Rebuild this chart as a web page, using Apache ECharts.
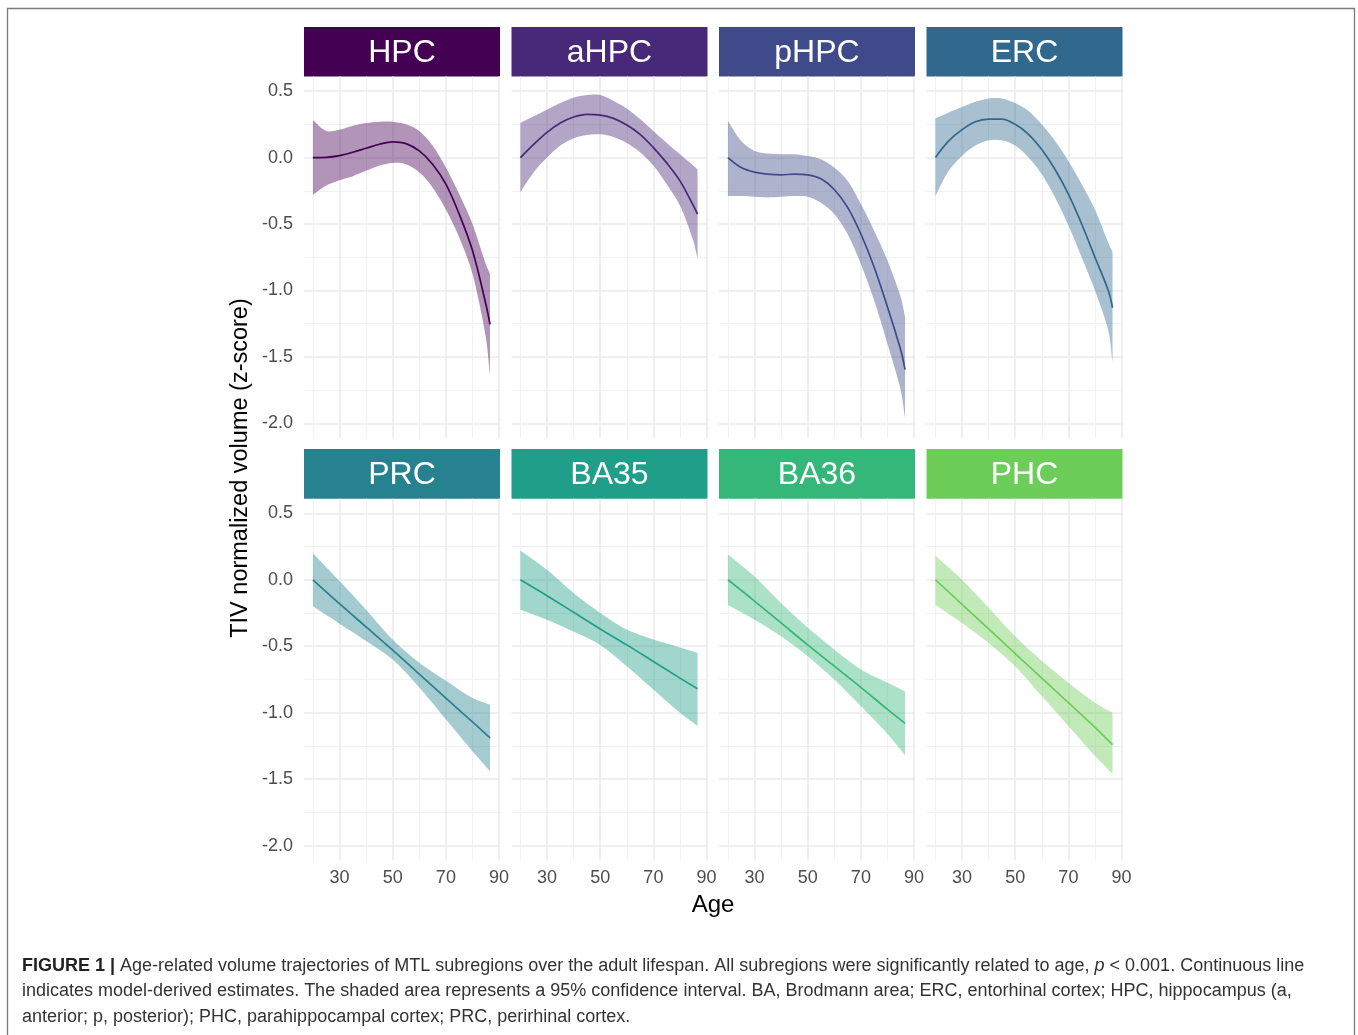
<!DOCTYPE html>
<html>
<head>
<meta charset="utf-8">
<script src="https://cdn.jsdelivr.net/npm/echarts@6/dist/echarts.min.js"></script>
<style>
html, body { margin: 0; padding: 0; background: #fff; }
#chart { width: 1358px; height: 1035px; }
</style>
</head>
<body>
<div id="chart"></div>
<script>
/* MTL subregion volume vs age, one facet per region */
var regions = ['HPC', 'aHPC', 'pHPC', 'ERC', 'PRC', 'BA35', 'BA36', 'PHC'];
var colors = ['#440154', '#482878', '#3E4A89', '#31688E', '#26828E', '#1F9E89', '#35B779', '#6DCD59'];

var majorAges = [30, 50, 70, 90];
var minorAges = [20, 40, 60, 80];
var majorZ = [-2, -1.5, -1, -0.5, 0, 0.5];
var minorZ = [-1.75, -1.25, -0.75, -0.25, 0.25];

// cubic fits (top row)
var curveAges = [20, 25, 30, 35, 40, 45, 50, 55, 60, 65, 70, 75, 80, 85, 86.6];
var hpcFit  = [0, 0.002, 0.015, 0.04, 0.07, 0.1, 0.118, 0.105, 0.05, -0.05, -0.2, -0.425, -0.7, -1.1, -1.255];
var hpcHigh = [0.28, 0.2, 0.21, 0.24, 0.26, 0.27, 0.27, 0.25, 0.2, 0.09, -0.075, -0.275, -0.5, -0.8, -0.875];
var hpcLow  = [-0.28, -0.21, -0.17, -0.14, -0.1, -0.06, -0.04, -0.05, -0.11, -0.225, -0.39, -0.6, -0.875, -1.35, -1.64];
var ahpcFit  = [0, 0.1, 0.19, 0.26, 0.305, 0.325, 0.32, 0.295, 0.245, 0.175, 0.075, -0.04, -0.175, -0.36, -0.425];
var ahpcHigh = [0.26, 0.31, 0.36, 0.41, 0.45, 0.47, 0.47, 0.425, 0.37, 0.29, 0.2, 0.11, 0.025, -0.06, -0.09];
var ahpcLow  = [-0.26, -0.11, 0, 0.09, 0.145, 0.17, 0.175, 0.155, 0.11, 0.04, -0.06, -0.2, -0.36, -0.625, -0.76];
var phpcFit  = [0, -0.075, -0.11, -0.125, -0.13, -0.125, -0.13, -0.16, -0.24, -0.375, -0.575, -0.825, -1.125, -1.45, -1.595];
var phpcHigh = [0.275, 0.125, 0.05, 0.03, 0.025, 0.025, 0.0125, -0.0125, -0.075, -0.175, -0.35, -0.55, -0.775, -1.05, -1.2];
var phpcLow  = [-0.29, -0.29, -0.295, -0.3, -0.295, -0.29, -0.295, -0.34, -0.425, -0.575, -0.8, -1.075, -1.4, -1.75, -1.96];
var ercFit  = [0, 0.125, 0.21, 0.27, 0.29, 0.29, 0.25, 0.175, 0.06, -0.09, -0.275, -0.5, -0.75, -1.0, -1.13];
var ercHigh = [0.295, 0.34, 0.38, 0.42, 0.445, 0.445, 0.41, 0.35, 0.25, 0.125, -0.025, -0.2, -0.39, -0.64, -0.71];
var ercLow  = [-0.29, -0.1, 0.0125, 0.09, 0.13, 0.13, 0.09, 0, -0.125, -0.3, -0.51, -0.75, -1.0, -1.3, -1.54];

// linear fits (bottom row)
var lineAges = [20, 30, 40, 50, 60, 70, 80, 86.6];
var prcFit  = [0, -0.18, -0.355, -0.53, -0.71, -0.89, -1.07, -1.19];
var prcHigh = [0.2, -0.01, -0.225, -0.45, -0.625, -0.76, -0.89, -0.94];
var prcLow  = [-0.2, -0.33, -0.46, -0.6, -0.81, -1.05, -1.29, -1.44];
var ba35Fit  = [0, -0.12, -0.245, -0.37, -0.49, -0.615, -0.74, -0.82];
var ba35High = [0.22, 0.075, -0.1, -0.25, -0.375, -0.45, -0.51, -0.55];
var ba35Low  = [-0.225, -0.3, -0.39, -0.49, -0.65, -0.825, -1.0, -1.1];
var ba36Fit  = [0, -0.16, -0.325, -0.49, -0.65, -0.81, -0.975, -1.08];
var ba36High = [0.19, 0.025, -0.175, -0.36, -0.525, -0.675, -0.775, -0.84];
var ba36Low  = [-0.19, -0.3, -0.425, -0.575, -0.75, -0.95, -1.16, -1.32];
var phcFit  = [0, -0.185, -0.37, -0.555, -0.74, -0.925, -1.11, -1.24];
var phcHigh = [0.18, 0, -0.21, -0.425, -0.61, -0.775, -0.925, -1.0];
var phcLow  = [-0.19, -0.325, -0.475, -0.65, -0.875, -1.1, -1.325, -1.46];

var panels = [
    [curveAges, hpcFit, hpcLow, hpcHigh],
    [curveAges, ahpcFit, ahpcLow, ahpcHigh],
    [curveAges, phpcFit, phpcLow, phpcHigh],
    [curveAges, ercFit, ercLow, ercHigh],
    [lineAges, prcFit, prcLow, prcHigh],
    [lineAges, ba35Fit, ba35Low, ba35High],
    [lineAges, ba36Fit, ba36Low, ba36High],
    [lineAges, phcFit, phcLow, phcHigh]
];

var colLeft = [304, 511.5, 719, 926.5];
var panelW = 196;
var rowTop = [76.5, 498.7];
var panelH = 361.5;
var stripTop = [27, 449];
var font = 'Liberation Sans, Arial, sans-serif';

var grids = [], xAxes = [], yAxes = [], series = [], graphics = [];

graphics.push({
    type: 'rect', z: -10,
    shape: { x: 7.5, y: 8.5, width: 1347, height: 1045 },
    style: { fill: 'none', stroke: '#7a7a7a', lineWidth: 1.3 }
});

regions.forEach(function (name, i) {
    var row = Math.floor(i / 4), col = i % 4;
    var ages = panels[i][0], fit = panels[i][1], lo = panels[i][2], hi = panels[i][3];

    grids.push({ left: colLeft[col], top: rowTop[row], width: panelW, height: panelH });

    var xBase = { gridIndex: i, type: 'value', min: 16.65, max: 90.35,
                  axisLine: { show: false } };
    xAxes.push(echarts.util.merge({
        position: 'bottom',
        axisTick: { show: false, customValues: majorAges },
        axisLabel: { show: row === 1, customValues: majorAges, color: '#4D4D4D',
                     fontSize: 18, fontFamily: font, margin: 9 },
        splitLine: { show: true, lineStyle: { color: '#EBEBEB', width: 1.6 } }
    }, xBase, true));
    xAxes.push(echarts.util.merge({
        position: 'top',
        axisTick: { show: false, customValues: minorAges },
        axisLabel: { show: false, customValues: minorAges },
        splitLine: { show: true, lineStyle: { color: '#EFEFEF', width: 0.9 } }
    }, xBase, true));

    var yBase = { gridIndex: i, type: 'value', min: -2.11, max: 0.61,
                  axisLine: { show: false } };
    yAxes.push(echarts.util.merge({
        position: 'left',
        axisTick: { show: false, customValues: majorZ },
        axisLabel: { show: col === 0, customValues: majorZ, color: '#4D4D4D',
                     fontSize: 18, fontFamily: font, margin: 11,
                     formatter: function (v) { return v.toFixed(1); } },
        splitLine: { show: true, lineStyle: { color: '#EBEBEB', width: 1.6 } }
    }, yBase, true));
    yAxes.push(echarts.util.merge({
        position: 'right',
        axisTick: { show: false, customValues: minorZ },
        axisLabel: { show: false, customValues: minorZ },
        splitLine: { show: true, lineStyle: { color: '#EFEFEF', width: 0.9 } }
    }, yBase, true));

    // confidence band, corners doubled so the smoothing keeps them sharp
    series.push({
        type: 'custom', xAxisIndex: 2 * i, yAxisIndex: 2 * i, silent: true, z: 2,
        data: ages.map(function (a, k) { return [a, lo[k], hi[k]]; }),
        encode: { x: 0, y: [1, 2] },
        renderItem: function (params, api) {
            if (params.dataIndexInside !== 0) return null;
            var pts = [], k, n = ages.length;
            pts.push(api.coord([ages[0], hi[0]]));
            for (k = 0; k < n; k++) pts.push(api.coord([ages[k], hi[k]]));
            pts.push(api.coord([ages[n - 1], hi[n - 1]]));
            pts.push(api.coord([ages[n - 1], lo[n - 1]]));
            for (k = n - 1; k >= 0; k--) pts.push(api.coord([ages[k], lo[k]]));
            pts.push(api.coord([ages[0], lo[0]]));
            return {
                type: 'polygon',
                shape: { points: pts, smooth: 0.3 },
                style: { fill: colors[i], opacity: 0.42 }
            };
        }
    });
    // fitted line
    series.push({
        name: name, type: 'line', xAxisIndex: 2 * i, yAxisIndex: 2 * i, z: 3,
        silent: true, showSymbol: false, smooth: 0.35,
        data: ages.map(function (a, k) { return [a, fit[k]]; }),
        lineStyle: { color: colors[i], width: 1.7 }
    });

    // facet strip
    graphics.push({
        type: 'rect',
        shape: { x: colLeft[col], y: stripTop[row], width: panelW, height: rowTop[row] - stripTop[row] },
        style: { fill: colors[i] }
    });
    graphics.push({
        type: 'text',
        x: colLeft[col] + panelW / 2, y: (stripTop[row] + rowTop[row]) / 2 + 1,
        style: { text: name, fill: '#fff', fontSize: 32, fontFamily: font,
                 align: 'center', verticalAlign: 'middle' }
    });
});

graphics.push({
    type: 'text', x: 713, y: 905,
    style: { text: 'Age', fill: '#000', fontSize: 24, fontFamily: font,
             align: 'center', verticalAlign: 'middle' }
});
graphics.push({
    type: 'text', x: 241, y: 468, rotation: Math.PI / 2,
    style: { text: 'TIV normalized volume (z-score)', fill: '#000', fontSize: 23.5,
             fontFamily: font, align: 'center', verticalAlign: 'middle' }
});

var captionLines = [
    '{b|FIGURE 1 |} Age-related volume trajectories of MTL subregions over the adult lifespan. All subregions were significantly related to age, {i|p} < 0.001. Continuous line',
    'indicates model-derived estimates. The shaded area represents a 95% confidence interval. BA, Brodmann area; ERC, entorhinal cortex; HPC, hippocampus (a,',
    'anterior; p, posterior); PHC, parahippocampal cortex; PRC, perirhinal cortex.'
];
var captionY = [966, 991, 1017];
captionLines.forEach(function (t, k) {
    graphics.push({
        type: 'text', x: 22, y: captionY[k],
        style: {
            text: t, fill: '#333', fontSize: 18, fontFamily: font,
            verticalAlign: 'middle',
            rich: {
                b: { fontWeight: 'bold', fontSize: 18, fontFamily: font, fill: '#222' },
                i: { fontStyle: 'italic', fontSize: 18, fontFamily: font, fill: '#333' }
            }
        }
    });
});

var chart = echarts.init(document.getElementById('chart'));
chart.setOption({
    animation: false,
    backgroundColor: '#fff',
    grid: grids,
    xAxis: xAxes,
    yAxis: yAxes,
    series: series,
    graphic: graphics
});
</script>
</body>
</html>
